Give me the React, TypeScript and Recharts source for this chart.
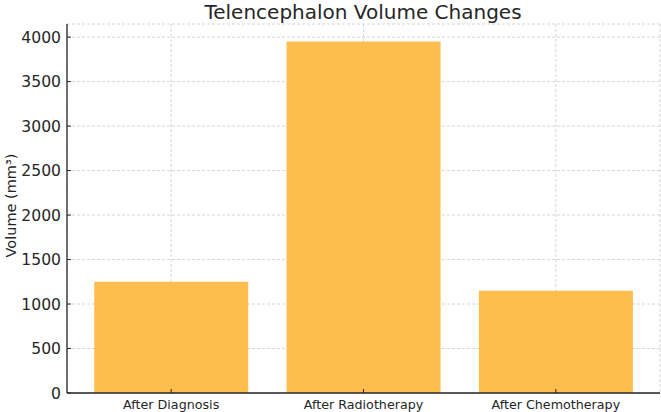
import React from "react";
import { BarChart, Bar, XAxis, YAxis, CartesianGrid } from "recharts";

const stages = ["After Diagnosis", "After Radiotherapy", "After Chemotherapy"];
const volumes = [1250, 3950, 1150];
const yTicks = [0, 500, 1000, 1500, 2000, 2500, 3000, 3500, 4000];

const data = stages.map((stage, i) => ({ stage, volume: volumes[i] }));

const FONT = "DejaVu Sans, sans-serif";
const TEXT = "#262626";

const YTick = (props: any) => {
  const { x, y, payload } = props;
  return (
    <g>
      <line x1={x + 6} x2={x + 10} y1={y} y2={y} stroke={TEXT} strokeWidth={1} />
      <text x={x} y={y} dy={5.5} textAnchor="end" fontSize={15.6} fill={TEXT} fontFamily={FONT}>
        {payload.value}
      </text>
    </g>
  );
};

const XTick = (props: any) => {
  const { x, y, payload } = props;
  return (
    <g>
      <line x1={x} x2={x} y1={y - 6} y2={y - 10} stroke={TEXT} strokeWidth={1} />
      <text x={x} y={y} dy={9.5} textAnchor="middle" fontSize={12.7} fill={TEXT} fontFamily={FONT}>
        {payload.value}
      </text>
    </g>
  );
};

export default function App() {
  return (
    <div style={{ position: "fixed", left: 0, top: 0, width: 661, height: 412, background: "#fff" }}>
      <BarChart
        width={661}
        height={412}
        data={data}
        margin={{ top: 24, right: 1, left: 7, bottom: 0 }}
        barCategoryGap="10%"
      >
        <text x={363} y={19} textAnchor="middle" fontSize={20} fill={TEXT} fontFamily={FONT}>
          Telencephalon Volume Changes
        </text>
        <text
          x={15.5}
          y={205.5}
          transform="rotate(-90 15.5 205.5)"
          textAnchor="middle"
          fontSize={14.5}
          fill={TEXT}
          fontFamily={FONT}
        >
          Volume (mm³)
        </text>
        <CartesianGrid stroke="#cccccc" strokeDasharray="3 2" strokeWidth={0.8} />
        <XAxis
          dataKey="stage"
          height={19}
          padding={{ left: 8, right: 8 }}
          tickLine={false}
          tickSize={0}
          tickMargin={6}
          tick={<XTick />}
          axisLine={{ stroke: TEXT, strokeWidth: 1.3 }}
          interval={0}
        />
        <YAxis
          width={60}
          domain={[0, 4147.5]}
          ticks={yTicks}
          tickLine={false}
          tickSize={0}
          tickMargin={6}
          tick={<YTick />}
          axisLine={{ stroke: TEXT, strokeWidth: 1.3 }}
          allowDataOverflow
        />
        <Bar dataKey="volume" fill="#FEBD4F" isAnimationActive={false} />
      </BarChart>
    </div>
  );
}
